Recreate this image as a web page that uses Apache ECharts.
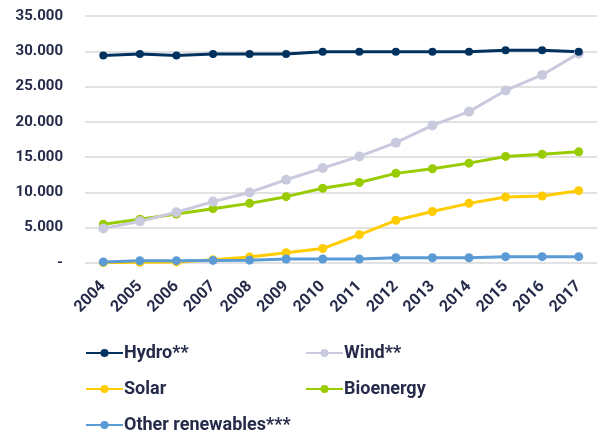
<!DOCTYPE html>
<html><head><meta charset="utf-8">
<script src="https://cdn.jsdelivr.net/npm/echarts@6/dist/echarts.min.js"></script>
<style>html,body{margin:0;padding:0;background:#fff}#c{width:601px;height:432px}</style>
</head><body><div id="c"></div>
<script>
const years = ['2004','2005','2006','2007','2008','2009','2010','2011','2012','2013','2014','2015','2016','2017'];
const hydro = [29400,29600,29400,29600,29600,29600,29950,29950,29950,29950,29950,30150,30150,29950];
const wind = [4900,5900,7200,8700,10000,11800,13450,15100,17050,19500,21450,24450,26650,29700];
const solar = [50,100,150,450,850,1450,2050,4000,6050,7300,8450,9350,9500,10250];
const bioenergy = [5500,6200,6950,7700,8450,9400,10600,11400,12700,13350,14150,15100,15400,15750];
const other = [150,320,330,370,400,560,570,570,750,750,750,900,900,900];
const yTicks = {min:0, max:35000, interval:5000};

const txt = '#262B4A';
const font = 'Roboto';
function fmt(v){ if(v===0) return '-'; return String(v/1000)+'.000'; }
function mk(name, data, color, size){
  return {name, type:'line', data, symbol:'circle', symbolSize:size||8,
    itemStyle:{color}, lineStyle:{color, width:3}, z: 2};
}
const legendText = {color:txt, fontFamily:font, fontWeight:'bold', fontSize:18, padding:[0,0,0,-4]};
const chart = echarts.init(document.getElementById('c'), null, {renderer:'canvas'});
chart.setOption({
  animation:false,
  textStyle:{fontFamily:font},
  grid:{left:85, right:4, top:16, bottom:169, containLabel:false},
  xAxis:{type:'category', data:years, boundaryGap:true,
    axisLine:{show:false}, axisTick:{show:false},
    axisLabel:{rotate:45, margin:21, color:txt, fontFamily:font, fontWeight:'bold', fontSize:16, interval:0}},
  yAxis:{type:'value', min:yTicks.min, max:yTicks.max, interval:yTicks.interval,
    axisLine:{show:false}, axisTick:{show:false},
    splitLine:{lineStyle:{color:'#D9D9D9', width:1.5}},
    axisLabel:{margin:22, color:txt, fontFamily:font, fontWeight:'bold', fontSize:15, formatter:fmt}},
  legend:[
    {orient:'vertical', left:85, top:344, height:100, padding:0, itemWidth:37, itemHeight:10, itemGap:18,
     data:['Hydro**','Solar','Other renewables***'], textStyle:legendText},
    {orient:'vertical', left:305, top:344, height:100, padding:0, itemWidth:37, itemHeight:10, itemGap:18,
     data:['Wind**','Bioenergy'], textStyle:legendText}
  ],
  series:[
    mk('Solar', solar, '#FFCC00', 9),
    mk('Other renewables***', other, '#5B9BD5', 9),
    mk('Bioenergy', bioenergy, '#99CC00', 9),
    mk('Wind**', wind, '#CACADF', 10),
    mk('Hydro**', hydro, '#00325F', 8)
  ]
});
</script></body></html>
